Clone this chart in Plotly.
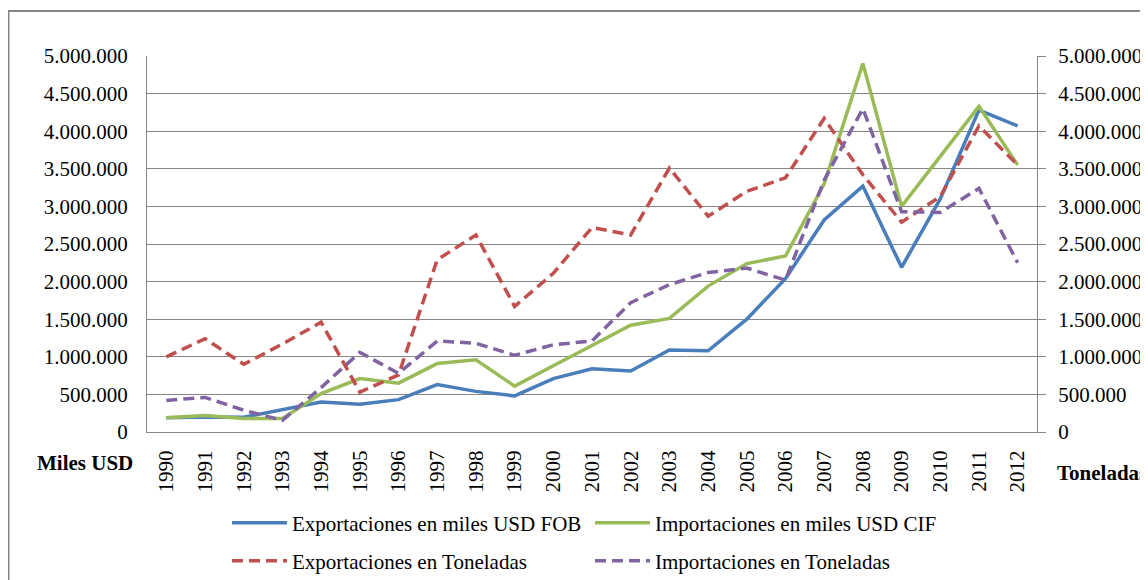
import plotly.graph_objects as go

years = [str(y) for y in range(1990, 2013)]

exp_usd_fob = [190000, 200000, 195000, 300000, 400000, 370000, 430000, 630000, 540000, 480000,
               710000, 840000, 810000, 1090000, 1080000, 1500000, 2040000, 2820000, 3270000, 2190000,
               3100000, 4280000, 4070000]
imp_usd_cif = [190000, 220000, 180000, 180000, 510000, 710000, 650000, 910000, 960000, 610000,
               880000, 1150000, 1420000, 1510000, 1940000, 2240000, 2340000, 3300000, 4900000, 3000000,
               3660000, 4330000, 3550000]
exp_ton = [1000000, 1240000, 900000, 1170000, 1460000, 530000, 760000, 2290000, 2620000, 1670000,
           2110000, 2720000, 2620000, 3510000, 2870000, 3200000, 3380000, 4170000, 3420000, 2790000,
           3130000, 4070000, 3550000]
imp_ton = [420000, 460000, 290000, 155000, 590000, 1060000, 780000, 1210000, 1180000, 1020000,
           1160000, 1210000, 1720000, 1960000, 2120000, 2180000, 2020000, 3350000, 4300000, 2930000,
           2920000, 3240000, 2250000]

names = ["Exportaciones en miles USD FOB", "Importaciones en miles USD CIF",
         "Exportaciones en Toneladas", "Importaciones en Toneladas"]

FONT = "'Liberation Serif', 'Times New Roman', serif"
GRAY = "#868686"

fig = go.Figure()
fig.add_trace(go.Scatter(x=years, y=exp_usd_fob, name=names[0], mode="lines",
                         line=dict(color="#4A7EBB", width=3.5), legend="legend"))
fig.add_trace(go.Scatter(x=years, y=imp_usd_cif, name=names[1], mode="lines",
                         line=dict(color="#9BBB59", width=3.5), legend="legend2"))
fig.add_trace(go.Scatter(x=years, y=exp_ton, name=names[2], mode="lines", yaxis="y2",
                         line=dict(color="#C0504D", width=3.5, dash="11px,6px"), legend="legend3"))
fig.add_trace(go.Scatter(x=years, y=imp_ton, name=names[3], mode="lines", yaxis="y2",
                         line=dict(color="#8064A2", width=3.5, dash="11px,6px"), legend="legend4"))

# page offset of the figure (body margin)
OFF = 8
W, H = 1148 - OFF, 580 - OFF
# plot area in page pixels
L, R, T, B = 147, 1037, 56, 432
pw, ph = R - L, B - T

def px(x):
    return (x - L) / pw

def py(y):
    return (B - y) / ph

legend_common = dict(orientation="h", xanchor="left", yanchor="middle",
                     font=dict(family=FONT, size=21, color="#000000"),
                     bgcolor="rgba(0,0,0,0)", borderwidth=0, itemwidth=55)

yaxis_common = dict(range=[0, 5000000], dtick=500000, tickformat=",d",
                    showgrid=True, gridcolor=GRAY, gridwidth=1,
                    showline=True, linecolor=GRAY, linewidth=1,
                    zeroline=False,
                    tickfont=dict(family=FONT, size=21, color="#000000"))

fig.update_layout(
    width=W, height=H,
    margin=dict(l=L - OFF, r=W - (R - OFF), t=T - OFF, b=H - (B - OFF), autoexpand=False),
    paper_bgcolor="white", plot_bgcolor="white",
    separators=",.",
    font=dict(family=FONT, size=21, color="#000000"),
    xaxis=dict(type="category", range=[-0.5, 22.5], tickangle=-90,
               showline=True, linecolor=GRAY, linewidth=1, showgrid=False,
               ticks="", tickfont=dict(family=FONT, size=21, color="#000000"),
               ticklabelstandoff=9),
    yaxis=dict(**yaxis_common, ticks="", ticklabelstandoff=14),
    yaxis2=dict(**yaxis_common, overlaying="y", side="right", ticks="outside",
                ticklen=8, tickcolor=GRAY, ticklabelstandoff=8),
    legend=dict(**legend_common, x=px(227), y=py(523)),
    legend2=dict(**legend_common, x=px(590), y=py(523)),
    legend3=dict(**legend_common, x=px(227), y=py(561)),
    legend4=dict(**legend_common, x=px(590), y=py(561)),
    showlegend=True,
    annotations=[
        dict(text="<b>Miles USD</b>", x=px(85), y=py(463), xref="paper", yref="paper",
             showarrow=False, xanchor="center", yanchor="middle",
             font=dict(family=FONT, size=21, color="#000000")),
        dict(text="<b>Toneladas</b>", x=px(1055), y=py(473), xref="paper", yref="paper",
             showarrow=False, xanchor="left", yanchor="middle",
             font=dict(family=FONT, size=21, color="#000000")),
    ],
    shapes=[
        dict(type="rect", xref="paper", yref="paper",
             x0=px(8.5), y0=py(600), x1=px(1170), y1=py(11),
             line=dict(color=GRAY, width=2), fillcolor="rgba(0,0,0,0)", layer="below"),
    ],
)

fig.write_html("out.html")
